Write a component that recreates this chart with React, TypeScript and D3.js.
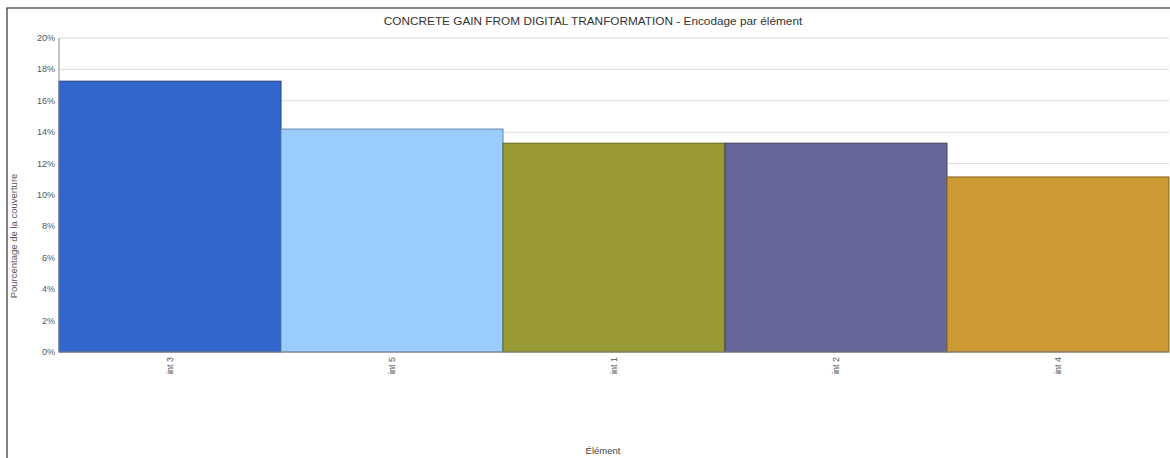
import React from "react";
import * as d3 from "d3";

const categories = ["int 3", "int 5", "int 1", "int 2", "int 4"];
const values = [17.25, 14.2, 13.3, 13.3, 11.15];
const colors = ["#3366CC", "#99CCFF", "#999933", "#666699", "#CC9933"];
const yTicks = [0, 2, 4, 6, 8, 10, 12, 14, 16, 18, 20];

const W = 1170;
const H = 458;
const left = 59;
const right = 1169;
const top = 38;
const bottom = 352;

export default function App() {
  const x = d3.scaleBand<string>().domain(categories).range([left, right]).padding(0);
  const y = d3.scaleLinear().domain([0, 20]).range([bottom, top]);
  const font = "Arial, 'Liberation Sans', sans-serif";

  return (
    <svg
      width={W}
      height={H}
      style={{ position: "absolute", left: 0, top: 0, background: "#fff" }}
      fontFamily={font}
    >
      <rect x={7} y={8} width={W + 10} height={H + 10} fill="#fff" stroke="#333" strokeWidth={1.2} />
      <text x={593} y={25} textAnchor="middle" fontSize={11.8} fill="#333">
        CONCRETE GAIN FROM DIGITAL TRANFORMATION - Encodage par élément
      </text>

      {yTicks.map((t) => (
        <g key={t}>
          {t > 0 && (
            <line x1={left} x2={right} y1={y(t)} y2={y(t)} stroke="#dcdcdc" strokeWidth={1} />
          )}
          <text x={left - 4} y={y(t) + 3} textAnchor="end" fontSize={9} fill="#555">
            {t}%
          </text>
        </g>
      ))}

      {categories.map((c, i) => (
        <rect
          key={c}
          x={x(c)!}
          y={y(values[i])}
          width={x.bandwidth()}
          height={bottom - y(values[i])}
          fill={colors[i]}
          stroke={d3.color(colors[i])!.darker(1.2).toString()}
          strokeWidth={1}
        />
      ))}

      <line x1={left} x2={left} y1={top} y2={bottom} stroke="#888" strokeWidth={1} />
      <line x1={left} x2={right} y1={bottom} y2={bottom} stroke="#888" strokeWidth={1} />

      {categories.map((c) => {
        const cx = x(c)! + x.bandwidth() / 2;
        return (
          <text
            key={c}
            transform={`translate(${cx + 3},${357}) rotate(-90)`}
            textAnchor="end"
            fontSize={9}
            fill="#555"
          >
            {c}
          </text>
        );
      })}

      <text
        transform={`translate(17,${236}) rotate(-90)`}
        textAnchor="middle"
        fontSize={9.5}
        fill="#555"
      >
        Pourcentage de la couverture
      </text>
      <text x={603} y={454} textAnchor="middle" fontSize={9.5} fill="#444">
        Élément
      </text>
    </svg>
  );
}
